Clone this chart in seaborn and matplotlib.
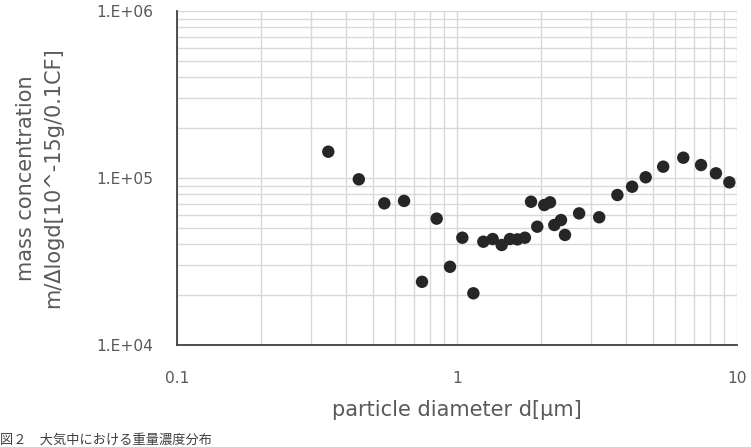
import matplotlib
matplotlib.use("Agg")
import matplotlib.pyplot as plt
import matplotlib.ticker as mticker
import seaborn as sns
import pandas as pd

# data
diameter_um = [0.347, 0.446, 0.550, 0.647, 0.846, 0.750, 0.944, 1.045, 1.144, 1.242,
               1.341, 1.444, 1.546, 1.643, 1.748, 1.838, 1.935, 2.050, 2.149, 2.226,
               2.352, 2.430, 2.730, 3.220, 3.740, 4.220, 4.720, 5.450, 6.430, 7.440,
               8.410, 9.390]
mass_conc = [143700, 98200, 70500, 72900, 57100, 23900, 29400, 43900, 20400, 41550,
             43100, 39700, 43100, 42900, 43900, 72100, 51100, 68900, 71500, 52300,
             56000, 45600, 61400, 58200, 79100, 88700, 101000, 116900, 132300, 119600,
             106700, 94200]
x_ticks = [0.1, 1, 10]
x_tick_labels = ["0.1", "1", "10"]
y_ticks = [1e4, 1e5, 1e6]
y_tick_labels = ["1.E+04", "1.E+05", "1.E+06"]
x_label = "particle diameter d[µm]"
y_label = "mass concentration\nm/Δlogd[10^-15g/0.1CF]"
caption = "図２　大気中における重量濃度分布"

sns.set_theme(style="white")
plt.rcParams['font.family'] = ['DejaVu Sans', 'Noto Sans CJK JP']

df = pd.DataFrame({"d": diameter_um, "m": mass_conc})

fig = plt.figure(figsize=(7.51, 4.47), dpi=100)
ax = fig.add_axes([177/751, 1-345/447, (737-177)/751, (345-11)/447])

ax.set_xscale("log")
ax.set_yscale("log")
ax.set_xlim(0.1, 10)
ax.set_ylim(1e4, 1e6)

ax.xaxis.set_minor_locator(mticker.LogLocator(base=10, subs=range(2, 10)))
ax.yaxis.set_minor_locator(mticker.LogLocator(base=10, subs=range(2, 10)))
ax.grid(True, which="both", color="#d9d9d9", linewidth=1.0)
ax.set_axisbelow(True)

sns.scatterplot(data=df, x="d", y="m", ax=ax, color="#262626", s=80,
                edgecolor="none", zorder=3, clip_on=False)

ax.set_xticks(x_ticks)
ax.set_xticklabels(x_tick_labels)
ax.set_yticks(y_ticks)
ax.set_yticklabels(y_tick_labels)
ax.xaxis.set_minor_formatter(mticker.NullFormatter())
ax.yaxis.set_minor_formatter(mticker.NullFormatter())

ax.tick_params(which="major", direction="in", length=5, width=1.2, color="#404040",
               labelsize=11.2, labelcolor="#595959")
ax.tick_params(axis="y", pad=17)
ax.tick_params(axis="x", pad=19)
ax.tick_params(which="minor", length=0)

for side in ["top", "right"]:
    ax.spines[side].set_visible(False)
for side in ["left", "bottom"]:
    ax.spines[side].set_color("#404040")
    ax.spines[side].set_linewidth(1.3)

ax.set_xlabel(x_label, fontsize=15, color="#595959", labelpad=10)
ax.set_ylabel(y_label, fontsize=15, color="#595959", labelpad=24, linespacing=1.45)

fig.text(0.0, 0.5/447, caption, fontsize=9.5, color="#404040",
         ha="left", va="bottom", family=['Noto Sans CJK JP', 'DejaVu Sans'])

fig.savefig("out.png", dpi=100)
